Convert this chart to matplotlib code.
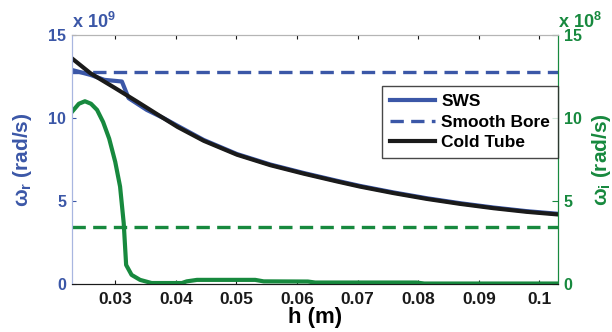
import numpy as np
import matplotlib
matplotlib.use("Agg")
import matplotlib.pyplot as plt

plt.rcParams['font.family'] = ['Liberation Sans', 'DejaVu Sans']
plt.rcParams['font.weight'] = 'bold'
plt.rcParams['axes.labelweight'] = 'bold'
plt.rcParams['mathtext.fontset'] = 'custom'
plt.rcParams['mathtext.rm'] = 'Liberation Sans:bold'
plt.rcParams['mathtext.it'] = 'Liberation Sans:bold'

# --------------------
# Data
# real part in units of 1e9 rad/s, imaginary part in units of 1e8 rad/s
# --------------------
h_cold = [0.0228, 0.0259, 0.030, 0.0336, 0.0370, 0.0403, 0.0446, 0.0501, 0.0556,
          0.0611, 0.0666, 0.0704, 0.0759, 0.0814, 0.0869, 0.0924, 0.0979, 0.1031]
wr_cold = [13.6, 12.69, 11.79, 10.98, 10.2, 9.45, 8.62, 7.78, 7.15,
           6.64, 6.17, 5.86, 5.47, 5.12, 4.82, 4.56, 4.34, 4.18]

h_sws = [0.0228, 0.0259, 0.0282, 0.0311, 0.0322, 0.0352, 0.0380, 0.0403, 0.0446, 0.0501,
         0.0556, 0.0611, 0.0666, 0.0704, 0.0759, 0.0814, 0.0869, 0.0924, 0.0979, 0.1031]
wr_sws = [12.89, 12.59, 12.29, 12.19, 11.19, 10.48, 9.98, 9.52, 8.67, 7.82,
          7.19, 6.68, 6.21, 5.9, 5.51, 5.16, 4.86, 4.6, 4.38, 4.22]

wr_smooth = 12.75

h_sws_i = [0.0229, 0.0240, 0.0250, 0.0260, 0.0270, 0.0280, 0.0290, 0.0300, 0.0308,
           0.0314, 0.0318, 0.0327, 0.0341, 0.0360, 0.0410, 0.0418, 0.0435, 0.0531,
           0.0545, 0.0618, 0.0630, 0.0797, 0.0810, 0.1031]
wi_sws = [10.38, 10.85, 11.0, 10.85, 10.48, 9.75, 8.75, 7.35, 5.86,
          3.66, 1.14, 0.54, 0.24, 0.05, 0.05, 0.15, 0.24, 0.24,
          0.15, 0.14, 0.08, 0.08, 0.02, 0.02]

wi_smooth = 3.45

BLUE = "#3b57a7"
GREEN = "#17893e"

fig = plt.figure(figsize=(6.12, 3.32), dpi=100)
ax = fig.add_axes([0.117, 0.145, 0.795, 0.75])
ax2 = ax.twinx()

l1, = ax.plot(h_sws, wr_sws, color=BLUE, lw=3, label="SWS", zorder=2)
l2, = ax.plot([0.0228, 0.1031], [wr_smooth, wr_smooth], color=BLUE, lw=2.4,
              ls=(0, (4, 2.2)), label="Smooth Bore", zorder=2)
l3, = ax.plot(h_cold, wr_cold, color="#1a1a1a", lw=3, label="Cold Tube", zorder=3)

ax2.plot(h_sws_i, wi_sws, color=GREEN, lw=3)
ax2.plot([0.0228, 0.1031], [wi_smooth, wi_smooth], color=GREEN, lw=2.4, ls=(0, (4, 2.2)))

ax.set_xlim(0.0228, 0.1031)
ax.set_ylim(0, 15)
ax2.set_ylim(0, 15)
ax.set_xticks([0.03, 0.04, 0.05, 0.06, 0.07, 0.08, 0.09, 0.1])
ax.set_xticklabels(["0.03", "0.04", "0.05", "0.06", "0.07", "0.08", "0.09", "0.1"])
ax.set_yticks([0, 5, 10, 15])
ax2.set_yticks([0, 5, 10, 15])

ax.tick_params(axis='x', direction='in', top=True, length=3, labelsize=12.5, colors="#1a1a1a", pad=6)
ax.tick_params(axis='y', direction='in', length=3, labelsize=11.5, colors=BLUE, pad=4)
ax2.tick_params(axis='y', direction='in', length=4, labelsize=11.5, colors=GREEN, pad=4)

for a in (ax, ax2):
    a.spines['top'].set_color("#b5b5b5")
    a.spines['bottom'].set_color("#1a1a1a")
    a.spines['left'].set_color("#a8b6e0")
    a.spines['right'].set_color(GREEN)

ax.set_xlabel("h (m)", fontsize=16, fontweight='bold', labelpad=0)
ax.set_ylabel(r"$\omega_r$ (rad/s)", fontsize=15, fontweight='bold', color=BLUE, labelpad=10)
ax2.set_ylabel(r"$\omega_i$ (rad/s)", fontsize=15, fontweight='bold', color=GREEN, labelpad=6)

fig.text(0.118, 0.905, r"x 10$^{9}$", color=BLUE, fontsize=13, ha='left', va='bottom')
fig.text(0.912, 0.905, r"x 10$^{8}$", color=GREEN, fontsize=13, ha='left', va='bottom')

leg = ax2.legend(handles=[l1, l2, l3], loc='upper right', bbox_to_anchor=(1.0, 0.795),
                 borderaxespad=0, fontsize=12.5, handlelength=2.6, handletextpad=0.35,
                 borderpad=0.45, labelspacing=0.32, frameon=True, fancybox=False)
leg.get_frame().set_edgecolor("#1a1a1a")
leg.get_frame().set_linewidth(1)

fig.savefig("out.png", dpi=100)
